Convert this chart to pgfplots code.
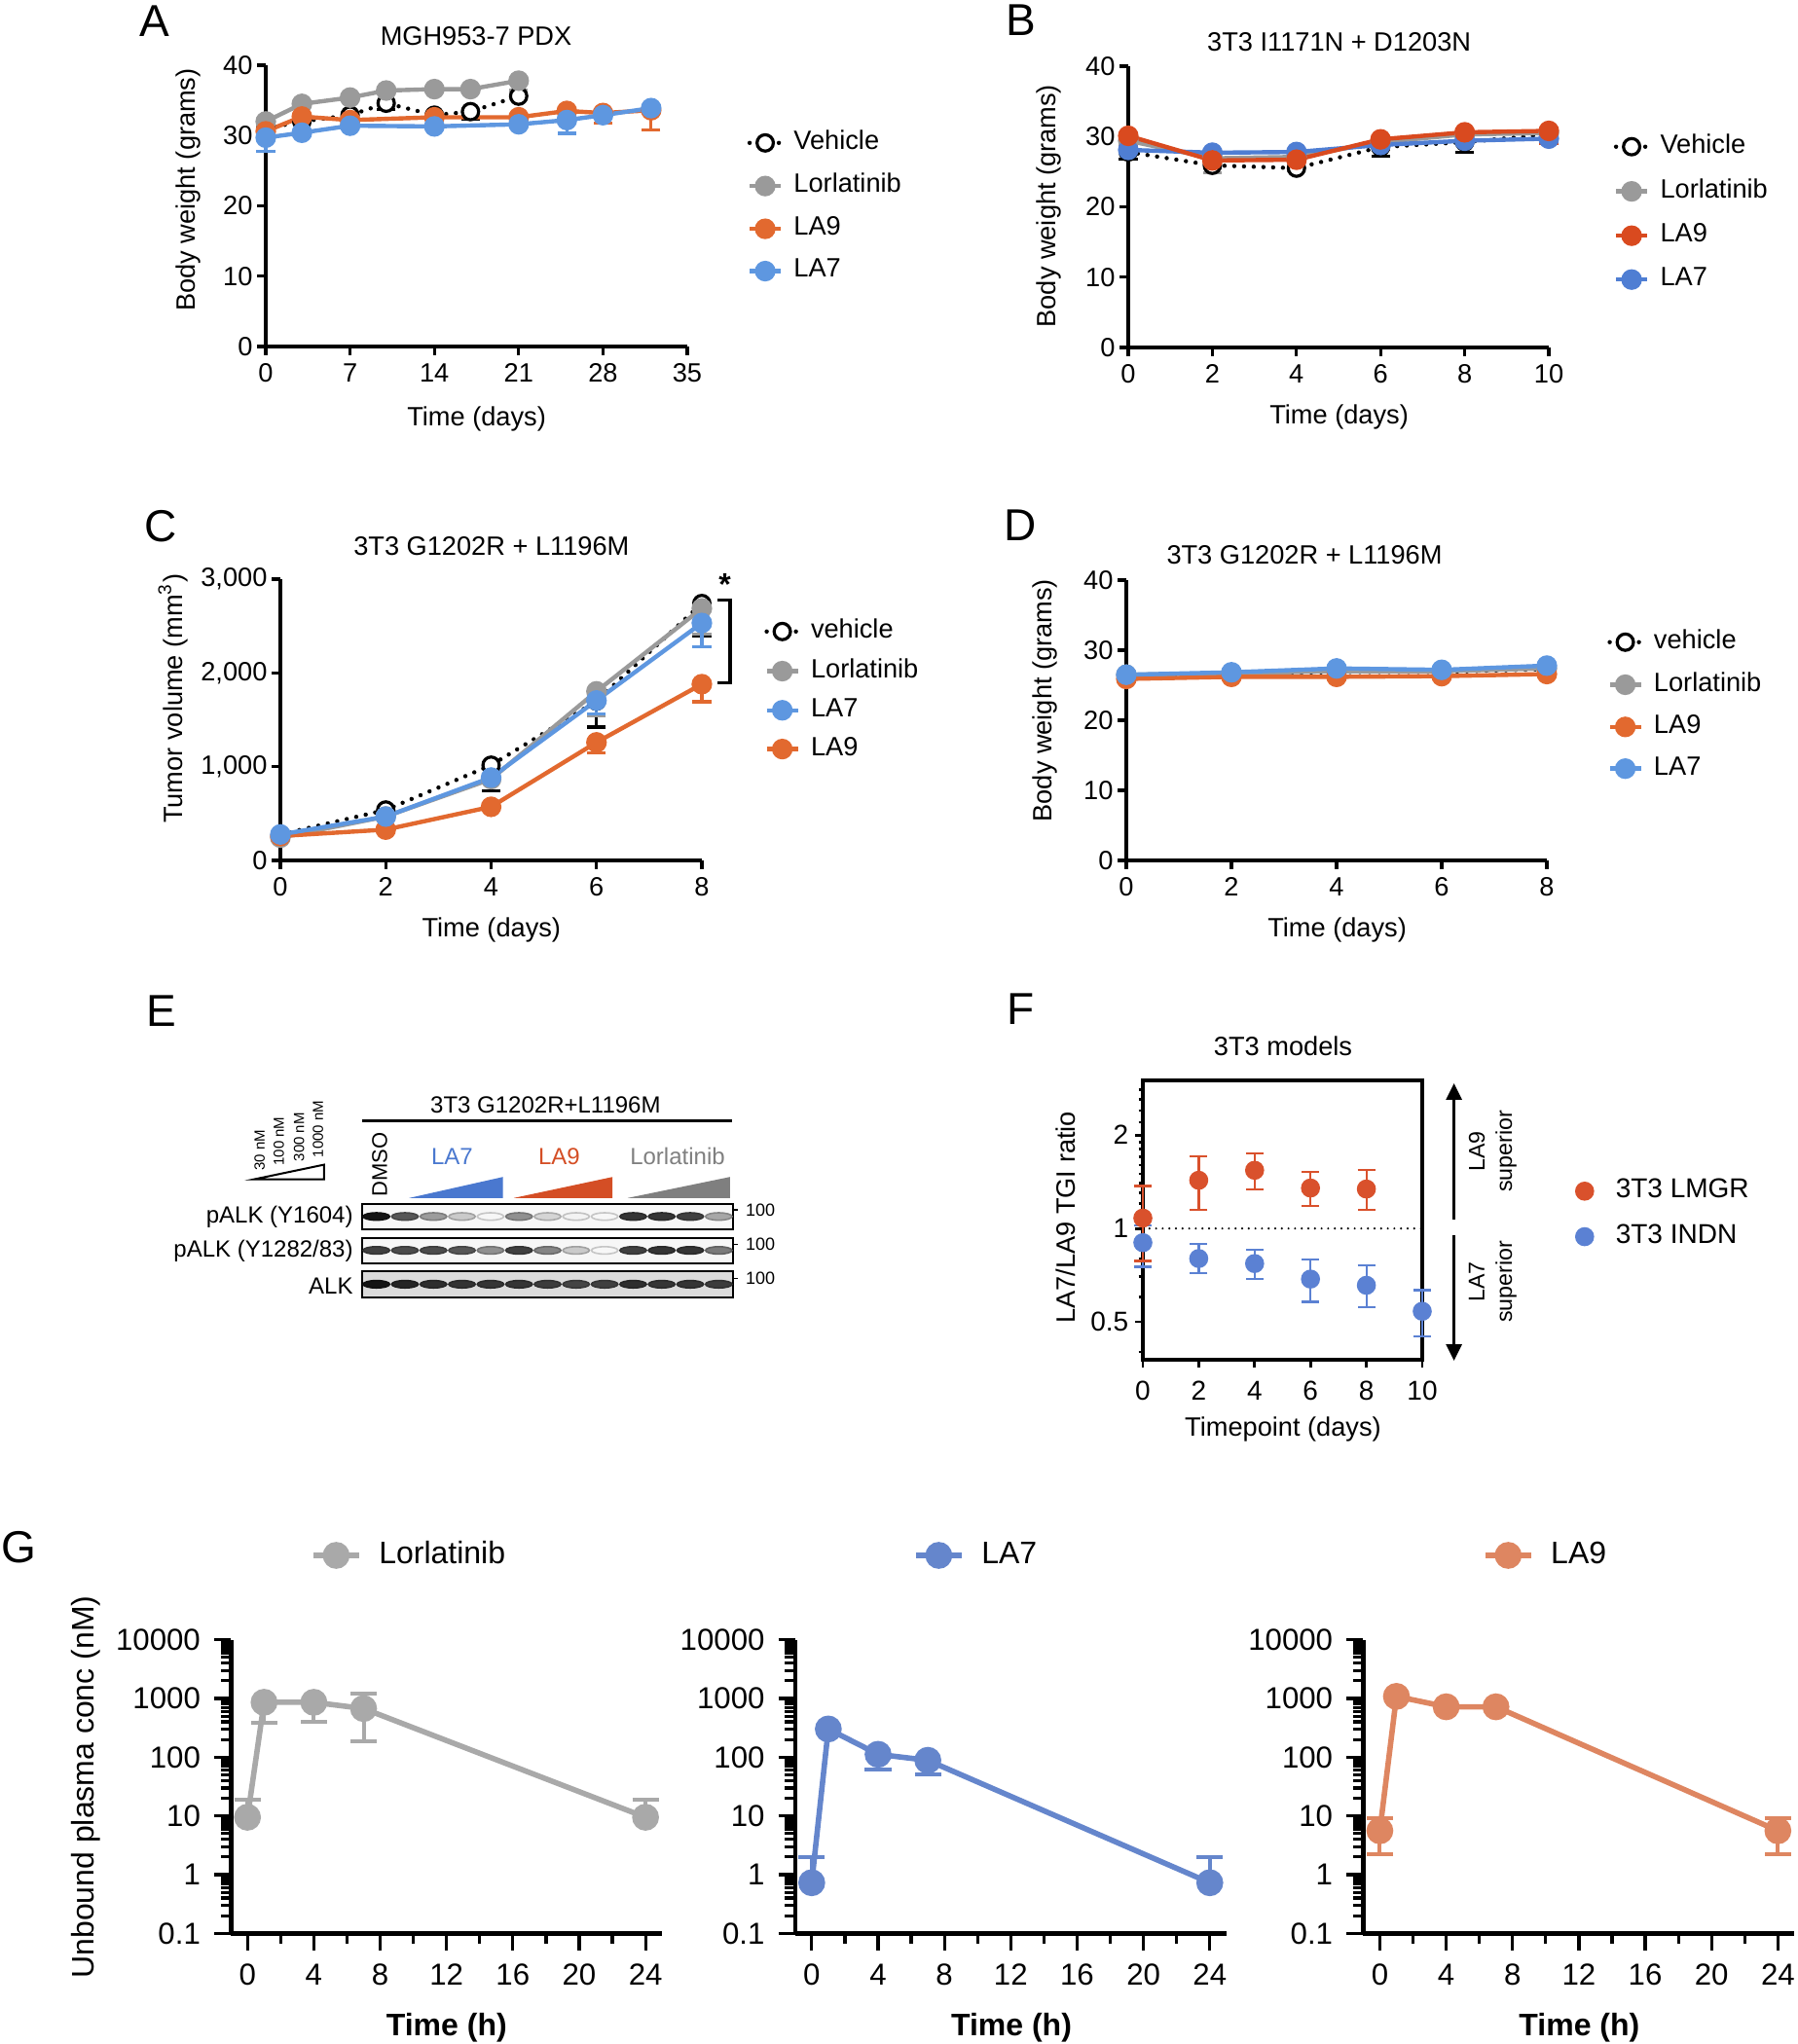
\documentclass[border=0pt]{standalone}
\usepackage{fontspec}
\setmainfont{Liberation Sans}
\setsansfont{Liberation Sans}
\usepackage{pgfplots}
\pgfplotsset{compat=1.18}
\usetikzlibrary{arrows.meta}

\definecolor{cGray}{HTML}{9A9A9A}
\definecolor{cOrange}{HTML}{E2692F}
\definecolor{cBlue}{HTML}{5E97E0}
\definecolor{bOrange}{HTML}{D94A1F}
\definecolor{bBlue}{HTML}{4F7ED3}
\definecolor{fRed}{HTML}{D9512C}
\definecolor{fBlue}{HTML}{5B81D3}
\definecolor{gGray}{HTML}{A9A9A9}
\definecolor{gBlue}{HTML}{6586CC}
\definecolor{gOrange}{HTML}{DE8661}
\definecolor{eBlue}{HTML}{4A78CF}
\definecolor{eRed}{HTML}{D44E25}
\definecolor{eGray}{HTML}{7F7F7F}

\newcommand{\fs}[1]{\fontsize{#1}{#1}\selectfont}

\pgfplotsset{
  gp/.style={
    scale only axis, clip=false,
    axis lines=left, axis line style={line width=0.8pt,-},
    x axis line style={-}, y axis line style={-},
    tick align=outside, major tick length=2.2pt,
    tick style={line width=0.8pt,black},
    ticklabel style={font=\fs{6.8}},
    yticklabel style={inner sep=1pt},
    xticklabel style={inner sep=2pt},
    /pgf/number format/assume math mode=true,
    /pgf/number format/1000 sep={,},
    legend cell align=left,
    legend style={draw=none, fill=none, font=\fs{6.8}, inner sep=0pt, nodes={inner sep=0.5pt}, column sep=2.3pt, anchor=north west},
    legend image code/.code={\draw[mark repeat=2,mark phase=2,##1] plot coordinates {(0pt,0pt) (4pt,0pt) (8pt,0pt)};},
  },
  veh/.style={black, line width=1.1pt, dash pattern=on 0pt off 2.5pt, line cap=round, mark=*, mark size=2.1pt, mark options={solid, fill=white, draw=black, line width=0.8pt}},
  ser/.style={color=#1, line width=1.1pt, mark=*, mark size=2.1pt, mark options={solid, fill=#1, draw=#1}},
  eb/.style 2 args={forget plot, only marks, mark=none, color=#1, error bars/.cd, y dir=#2, y explicit, error bar style={line width=0.8pt, solid, draw=#1}, error mark options={rotate=90, mark size=2.4pt, line width=0.8pt, solid, draw=#1}},
  gpk/.style={
    scale only axis, clip=false, width=110.75pt, height=75.45pt,
    axis lines=left, axis line style={line width=1.15pt,-},
    x axis line style={-}, y axis line style={-},
    tick align=outside, major tick length=4.3pt, minor tick length=2.6pt,
    tick style={line width=0.8pt,black},
    xmin=-1, xmax=25, ymin=0.1, ymax=10000,
    xtick={0,4,...,24}, minor xtick={2,6,...,22},
    ytick={0.1,1,10,100,1000,10000}, yticklabels={0.1,1,10,100,1000,10000},
    minor ytick={0.2,0.3,0.4,0.5,0.6,0.7,0.8,0.9,2,3,4,5,6,7,8,9,20,30,40,50,60,70,80,90,200,300,400,500,600,700,800,900,2000,3000,4000,5000,6000,7000,8000,9000},
    ticklabel style={font=\fs{7.8}},
    /pgf/number format/assume math mode=true,
    legend cell align=left,
    legend style={draw=none, fill=none, font=\fs{8}, inner sep=0pt, nodes={inner sep=0.5pt}, column sep=3.9pt, anchor=west},
    legend image code/.code={\draw[mark repeat=2,mark phase=2,##1] plot coordinates {(0pt,0pt) (5.875pt,0pt) (11.75pt,0pt)};},
  },
  gser/.style={color=#1, line width=1.4pt, mark=*, mark size=2.75pt, mark options={solid, fill=#1, draw=#1}},
  geb/.style 2 args={forget plot, only marks, mark=none, color=#1, error bars/.cd, y dir=#2, y explicit, error bar style={line width=1pt, draw=#1}, error mark options={rotate=90, mark size=3.4pt, line width=1pt, draw=#1}},
  blot/.style={scale only axis, width=95.25pt, xmin=0.5, xmax=13.5, ymin=0, ymax=1, ticks=none,
    axis line style={line width=0.45pt}, axis background/.style={fill=black!3},
    colormap={blot}{color=(black!3) color=(black!92)}, point meta min=0, point meta max=1},
  band/.style={scatter, only marks, mark=*, mark size=1pt, mark options={xscale=3.4, yscale=0.95}, scatter src=explicit},
}

\begin{document}
\begin{tikzpicture}
\path[use as bounding box] (0pt,0pt) rectangle (461.5pt,-525pt);

% panel letters
\node[font=\fs{11.5}, inner sep=0pt] at (39.75pt,-5.4pt) {A};
\node[font=\fs{11.5}, inner sep=0pt] at (262.25pt,-5.25pt) {B};
\node[font=\fs{11.5}, inner sep=0pt] at (41.4pt,-135.2pt) {C};
\node[font=\fs{11.5}, inner sep=0pt] at (262pt,-134.8pt) {D};
\node[font=\fs{11.5}, inner sep=0pt] at (41.4pt,-259.6pt) {E};
\node[font=\fs{11.5}, inner sep=0pt] at (262.25pt,-259.2pt) {F};
\node[font=\fs{11.5}, inner sep=0pt] at (4.75pt,-397.3pt) {G};

% ---------------- Panel A ----------------
\node[font=\fs{6.8}] at (122.25pt,-9.25pt) {MGH953-7 PDX};
\node[font=\fs{6.8}, rotate=90] at (48.4pt,-48.75pt) {Body weight (grams)};
\node[font=\fs{6.8}] at (122.4pt,-107.6pt) {Time (days)};
\begin{axis}[gp, at={(68.25pt,-89pt)}, anchor=south west, width=108.25pt, height=72.25pt,
  xmin=0, xmax=35, ymin=0, ymax=40, xtick={0,7,...,35}, ytick={0,10,...,40},
  legend style={at={(axis description cs:1.141,0.778)}, row sep=3.65pt}]
\addplot[eb={black}{minus}] coordinates {(10,34.6) -= (0,0.9) (17,33.4) -= (0,1.1)};
\addplot[eb={cGray}{minus}] coordinates {(21,37.8) -= (0,1.4)};
\addplot[eb={cOrange}{minus}] coordinates {(28,33.2) -= (0,1.4) (32,33.6) -= (0,2.8)};
\addplot[eb={cBlue}{minus}] coordinates {(0,29.7) -= (0,1.9) (25,32.2) -= (0,1.9)};
\addplot[veh, forget plot] coordinates {(0,31.0) (3,32.0) (7,32.9) (10,34.6) (14,32.9) (17,33.4) (21,35.6)};
\addplot[ser=cGray, forget plot] coordinates {(0,32.0) (3,34.5) (7,35.4) (10,36.4) (14,36.6) (17,36.6) (21,37.8)};
\addplot[ser=cOrange, forget plot] coordinates {(0,30.6) (3,32.7) (7,32.2) (14,32.6) (21,32.6) (25,33.5) (28,33.2) (32,33.6)};
\addplot[ser=cBlue, forget plot] coordinates {(0,29.7) (3,30.4) (7,31.4) (14,31.3) (21,31.6) (25,32.2) (28,32.9) (32,33.9)};
\addlegendimage{veh}\addlegendentry{Vehicle}
\addlegendimage{ser=cGray}\addlegendentry{Lorlatinib}
\addlegendimage{ser=cOrange}\addlegendentry{LA9}
\addlegendimage{ser=cBlue}\addlegendentry{LA7}
\end{axis}

% ---------------- Panel B ----------------
\node[font=\fs{6.8}] at (343.9pt,-10.75pt) {3T3 I1171N + D1203N};
\node[font=\fs{6.8}, rotate=90] at (269.25pt,-52.9pt) {Body weight (grams)};
\node[font=\fs{6.8}] at (343.9pt,-107pt) {Time (days)};
\begin{axis}[gp, at={(289.75pt,-89.25pt)}, anchor=south west, width=108pt, height=72.25pt,
  xmin=0, xmax=10, ymin=0, ymax=40, xtick={0,2,...,10}, ytick={0,10,...,40},
  legend style={at={(axis description cs:1.153,0.768)}, row sep=4.05pt}]
\addplot[eb={black}{minus}] coordinates {(0,27.8) -= (0,1.0) (6,28.5) -= (0,1.3) (8,29.2) -= (0,1.4)};
\addplot[eb={cGray}{minus}] coordinates {(2,26.9) -= (0,2.0) (4,27.1) -= (0,1.9)};
\addplot[eb={bOrange}{minus}] coordinates {(0,30.1) -= (0,1.5) (6,29.6) -= (0,1.4) (10,30.8) -= (0,1.8)};
\addplot[veh, forget plot] coordinates {(0,27.8) (2,25.9) (4,25.5) (6,28.5) (8,29.2) (10,30.3)};
\addplot[ser=cGray, forget plot] coordinates {(0,29.4) (2,26.9) (4,27.1) (6,29.2) (8,30.3) (10,30.5)};
\addplot[ser=bBlue, forget plot] coordinates {(0,28.1) (2,27.7) (4,27.8) (6,28.8) (8,29.4) (10,29.7)};
\addplot[ser=bOrange, forget plot] coordinates {(0,30.1) (2,26.6) (4,26.7) (6,29.6) (8,30.6) (10,30.8)};
\addlegendimage{veh}\addlegendentry{Vehicle}
\addlegendimage{ser=cGray}\addlegendentry{Lorlatinib}
\addlegendimage{ser=bOrange}\addlegendentry{LA9}
\addlegendimage{ser=bBlue}\addlegendentry{LA7}
\end{axis}

% ---------------- Panel C ----------------
\node[font=\fs{6.8}] at (126.2pt,-140.4pt) {3T3 G1202R + L1196M};
\node[font=\fs{6.8}, rotate=90] at (44.5pt,-179.4pt) {Tumor volume (mm\textsuperscript{3})};
\node[font=\fs{6.8}] at (126.2pt,-238.75pt) {Time (days)};
\begin{axis}[gp, at={(72pt,-221pt)}, anchor=south west, width=108.25pt, height=72.25pt,
  xmin=0, xmax=8, ymin=0, ymax=3000, xtick={0,2,...,8}, ytick={0,1000,2000,3000},
  legend style={at={(axis description cs:1.147,0.868)}, row sep=2.75pt}]
\addplot[eb={black}{minus}] coordinates {(4,1016) -= (0,270) (6,1699) -= (0,277) (8,2740) -= (0,347)};
\addplot[eb={cGray}{minus}] coordinates {(6,1803) -= (0,260) (8,2688) -= (0,277)};
\addplot[eb={cBlue}{minus}] coordinates {(6,1706) -= (0,140) (8,2532) -= (0,250)};
\addplot[eb={cOrange}{minus}] coordinates {(6,1259) -= (0,115) (8,1880) -= (0,187)};
\addplot[veh, forget plot] coordinates {(0,277) (2,538) (4,1016) (6,1699) (8,2740)};
\addplot[ser=cGray, forget plot] coordinates {(0,243) (2,468) (4,867) (6,1803) (8,2688)};
\addplot[ser=cOrange, forget plot] coordinates {(0,260) (2,329) (4,572) (6,1259) (8,1880)};
\addplot[ser=cBlue, forget plot] coordinates {(0,277) (2,468) (4,884) (6,1706) (8,2532)};
\addlegendimage{veh}\addlegendentry{vehicle}
\addlegendimage{ser=cGray}\addlegendentry{Lorlatinib}
\addlegendimage{ser=cBlue}\addlegendentry{LA7}
\addlegendimage{ser=cOrange}\addlegendentry{LA9}
\draw[line width=0.8pt] (axis cs:8.296,2775) -- (axis cs:8.536,2775) -- (axis cs:8.536,1892) -- (axis cs:8.296,1892);
\node[font=\fs{8}\bfseries] at (axis cs:8.436,2940) {*};
\end{axis}

% ---------------- Panel D ----------------
\node[font=\fs{6.8}] at (335pt,-142.5pt) {3T3 G1202R + L1196M};
\node[font=\fs{6.8}, rotate=90] at (268.25pt,-179.9pt) {Body weight (grams)};
\node[font=\fs{6.8}] at (343.4pt,-238.75pt) {Time (days)};
\begin{axis}[gp, at={(289.25pt,-221pt)}, anchor=south west, width=108pt, height=72pt,
  xmin=0, xmax=8, ymin=0, ymax=40, xtick={0,2,...,8}, ytick={0,10,...,40},
  legend style={at={(axis description cs:1.1426,0.833)}, row sep=3.5pt}]
\addplot[veh, forget plot] coordinates {(0,26.4) (2,26.6) (4,26.9) (6,26.9) (8,27.3)};
\addplot[ser=cGray, forget plot] coordinates {(0,26.5) (2,26.7) (4,27.0) (6,27.0) (8,27.4)};
\addplot[ser=cOrange, forget plot] coordinates {(0,25.9) (2,26.2) (4,26.2) (6,26.3) (8,26.6)};
\addplot[ser=cBlue, forget plot] coordinates {(0,26.5) (2,26.85) (4,27.4) (6,27.2) (8,27.8)};
\addlegendimage{veh}\addlegendentry{vehicle}
\addlegendimage{ser=cGray}\addlegendentry{Lorlatinib}
\addlegendimage{ser=cOrange}\addlegendentry{LA9}
\addlegendimage{ser=cBlue}\addlegendentry{LA7}
\end{axis}

% ---------------- Panel E (western blot) ----------------
\node[font=\fs{6}] at (140.1pt,-283.9pt) {3T3 G1202R+L1196M};
\draw[line width=0.7pt] (92.9pt,-287.9pt) -- (188pt,-287.9pt);
\node[font=\fs{5.5}, rotate=90, anchor=west, inner sep=0pt] at (97.5pt,-307.5pt) {DMSO};
\node[font=\fs{6}, text=eBlue] at (116.1pt,-297.1pt) {LA7};
\node[font=\fs{6}, text=eRed] at (143.6pt,-297.1pt) {LA9};
\node[font=\fs{6}, text=eGray] at (174pt,-297.1pt) {Lorlatinib};
\fill[eBlue] (105.1pt,-307.7pt) -- (129.15pt,-307.7pt) -- (129.15pt,-302.3pt) -- cycle;
\fill[eRed] (131.95pt,-307.7pt) -- (157.3pt,-307.7pt) -- (157.3pt,-302.3pt) -- cycle;
\fill[eGray] (161.2pt,-307.7pt) -- (187.45pt,-307.7pt) -- (187.45pt,-302.3pt) -- cycle;
\draw[line width=0.5pt] (65.25pt,-302.9pt) -- (83.2pt,-302.9pt) -- (83.2pt,-299.15pt) -- cycle;
\node[font=\fs{3.75}, rotate=90, anchor=west, inner sep=0pt] at (66.7pt,-300.8pt) {30 nM};
\node[font=\fs{3.75}, rotate=90, anchor=west, inner sep=0pt] at (71.6pt,-299.6pt) {100 nM};
\node[font=\fs{3.75}, rotate=90, anchor=west, inner sep=0pt] at (76.8pt,-298.5pt) {300 nM};
\node[font=\fs{3.75}, rotate=90, anchor=west, inner sep=0pt] at (81.7pt,-297.5pt) {1000 nM};
\node[font=\fs{6}, anchor=east, inner sep=0pt] at (90.85pt,-312.5pt) {pALK (Y1604)};
\node[font=\fs{6}, anchor=east, inner sep=0pt] at (90.85pt,-321.25pt) {pALK (Y1282/83)};
\node[font=\fs{6}, anchor=east, inner sep=0pt] at (90.85pt,-330.2pt) {ALK};
\foreach \yy in {310.8,319.6,328.4}{
  \draw[line width=0.4pt] (188.4pt,-\yy pt) -- (189.6pt,-\yy pt);
  \node[font=\fs{4.5}, anchor=west, inner sep=0pt] at (191.3pt,-\yy pt) {100};
}
\begin{axis}[blot, at={(93pt,-315.7pt)}, anchor=south west, height=6.5pt]
\addplot[band] coordinates {(1,0.5) [1.0] (2,0.5) [0.7] (3,0.5) [0.4] (4,0.5) [0.2] (5,0.5) [0.0] (6,0.5) [0.45] (7,0.5) [0.15] (8,0.5) [0.02] (9,0.5) [0.0] (10,0.5) [0.85] (11,0.5) [0.85] (12,0.5) [0.8] (13,0.5) [0.35]};
\end{axis}
\begin{axis}[blot, at={(93pt,-324.4pt)}, anchor=south west, height=6.5pt]
\addplot[band] coordinates {(1,0.5) [0.8] (2,0.5) [0.75] (3,0.5) [0.75] (4,0.5) [0.7] (5,0.5) [0.45] (6,0.5) [0.8] (7,0.5) [0.5] (8,0.5) [0.2] (9,0.5) [0.0] (10,0.5) [0.8] (11,0.5) [0.85] (12,0.5) [0.85] (13,0.5) [0.55]};
\end{axis}
\begin{axis}[blot, at={(93pt,-333.2pt)}, anchor=south west, height=6.7pt, axis background/.style={fill=black!14}]
\addplot[band] coordinates {(1,0.5) [1.0] (2,0.5) [0.92] (3,0.5) [0.88] (4,0.5) [0.86] (5,0.5) [0.85] (6,0.5) [0.85] (7,0.5) [0.82] (8,0.5) [0.78] (9,0.5) [0.8] (10,0.5) [0.88] (11,0.5) [0.85] (12,0.5) [0.85] (13,0.5) [0.82]};
\end{axis}

% ---------------- Panel F ----------------
\node[font=\fs{6.8}] at (329.5pt,-268.75pt) {3T3 models};
\node[font=\fs{6.8}, rotate=90] at (273.75pt,-312.7pt) {LA7/LA9 TGI ratio};
\node[font=\fs{6.8}] at (329.5pt,-367.1pt) {Timepoint (days)};
\begin{semilogyaxis}[scale only axis, clip=false, at={(293.5pt,-349.3pt)}, anchor=south west, width=71.75pt, height=71.8pt,
  axis line style={line width=0.9pt}, xmin=0, xmax=10, ymin=0.377, ymax=3.0,
  xtick={0,2,...,10}, ytick={0.5,1,2}, yticklabels={0.5,1,2},
  minor ytick={0.4,0.6,0.7,0.8,0.9,1.1,1.2,1.3,1.4,1.5,1.6,1.7,1.8,1.9,2.2,2.4,2.6,2.8},
  xtick pos=bottom, ytick pos=left, tick align=outside, major tick length=2pt, minor tick length=1.1pt,
  tick style={line width=0.7pt, black},
  ticklabel style={font=\fs{7}}, yticklabel style={inner sep=1.5pt},
  /pgf/number format/assume math mode=true,
  legend cell align=left,
  legend style={at={(axis description cs:1.547,0.658)}, anchor=north west, draw=none, fill=none, font=\fs{7}, inner sep=0pt, nodes={inner sep=0.5pt}, row sep=4.3pt, column sep=5.25pt},
  legend image code/.code={\draw[#1] plot coordinates {(2.25pt,0pt)};}]
\addplot[forget plot, black, line width=0.6pt, dash pattern=on 0pt off 1.7pt, line cap=round] coordinates {(0,1) (10,1)};
\addplot[forget plot, only marks, fBlue, mark=*, mark size=2.25pt, error bars/.cd, y dir=both, y explicit, error bar style={line width=0.55pt}, error mark options={rotate=90, mark size=2.25pt, line width=0.55pt}] coordinates {
 (0,0.90) += (0,0.12) -= (0,0.147) (2,0.80) += (0,0.09) -= (0,0.083) (4,0.771) += (0,0.082) -= (0,0.082)
 (6,0.687) += (0,0.109) -= (0,0.107) (8,0.656) += (0,0.106) -= (0,0.099) (10,0.541) += (0,0.092) -= (0,0.091)};
\addplot[forget plot, only marks, fRed, mark=*, mark size=2.25pt, error bars/.cd, y dir=both, y explicit, error bar style={line width=0.55pt}, error mark options={rotate=90, mark size=2.25pt, line width=0.55pt}] coordinates {
 (0,1.08) += (0,0.29) -= (0,0.294) (2,1.43) += (0,0.28) -= (0,0.28) (4,1.54) += (0,0.21) -= (0,0.205)
 (6,1.35) += (0,0.17) -= (0,0.165) (8,1.34) += (0,0.20) -= (0,0.19)};
\addlegendimage{only marks, fRed, mark=*, mark size=2.25pt}\addlegendentry{3T3 LMGR}
\addlegendimage{only marks, fBlue, mark=*, mark size=2.25pt}\addlegendentry{3T3 INDN}
\end{semilogyaxis}
\draw[line width=0.65pt, -{Triangle[length=4.2pt,width=4pt]}] (373.4pt,-313.25pt) -- (373.4pt,-278.25pt);
\draw[line width=0.65pt, -{Triangle[length=4.2pt,width=4pt]}] (373.4pt,-317.25pt) -- (373.4pt,-349.5pt);
\node[rotate=90, font=\fs{5.8}] at (379.25pt,-295.75pt) {LA9};
\node[rotate=90, font=\fs{5.8}] at (386.8pt,-295.75pt) {superior};
\node[rotate=90, font=\fs{5.8}] at (379.25pt,-329.2pt) {LA7};
\node[rotate=90, font=\fs{5.8}] at (386.8pt,-329.2pt) {superior};

% ---------------- Panel G ----------------
\node[font=\fs{8}, rotate=90] at (22pt,-459pt) {Unbound plasma conc (nM)};
\node[font=\fs{8}\bfseries] at (114.7pt,-520.7pt) {Time (h)};
\node[font=\fs{8}\bfseries] at (259.75pt,-520.7pt) {Time (h)};
\node[font=\fs{8}\bfseries] at (405.6pt,-520.7pt) {Time (h)};

\begin{semilogyaxis}[gpk, at={(59.3pt,-496.6pt)}, anchor=south west,
  legend style={at={(axis description cs:0.183,1.287)}}]
\addplot[geb={gGray}{plus}] coordinates {(0,9.5) += (0,9.1) (24,9.5) += (0,9.1)};
\addplot[geb={gGray}{minus}] coordinates {(1,860) -= (0,470) (4,860) -= (0,453)};
\addplot[geb={gGray}{both}] coordinates {(7,673) += (0,532) -= (0,485)};
\addplot[gser=gGray, forget plot] coordinates {(0,9.5) (1,860) (4,860) (7,673) (24,9.5)};
\addlegendimage{gser=gGray}\addlegendentry{Lorlatinib}
\end{semilogyaxis}

\begin{semilogyaxis}[gpk, at={(204.2pt,-496.6pt)}, anchor=south west,
  legend style={at={(axis description cs:0.272,1.287)}}]
\addplot[geb={gBlue}{plus}] coordinates {(0,0.73) += (0,1.27) (24,0.73) += (0,1.27)};
\addplot[geb={gBlue}{minus}] coordinates {(4,112) -= (0,50) (7,88.5) -= (0,37.5)};
\addplot[gser=gBlue, forget plot] coordinates {(0,0.73) (1,302) (4,112) (7,88.5) (24,0.73)};
\addlegendimage{gser=gBlue}\addlegendentry{LA7}
\end{semilogyaxis}

\begin{semilogyaxis}[gpk, at={(350.1pt,-496.6pt)}, anchor=south west,
  legend style={at={(axis description cs:0.275,1.287)}}]
\addplot[geb={gOrange}{both}] coordinates {(0,5.6) += (0,3.6) -= (0,3.35) (24,5.6) += (0,3.6) -= (0,3.35)};
\addplot[gser=gOrange, forget plot] coordinates {(0,5.6) (1,1084) (4,721) (7,721) (24,5.6)};
\addlegendimage{gser=gOrange}\addlegendentry{LA9}
\end{semilogyaxis}

\end{tikzpicture}
\end{document}
